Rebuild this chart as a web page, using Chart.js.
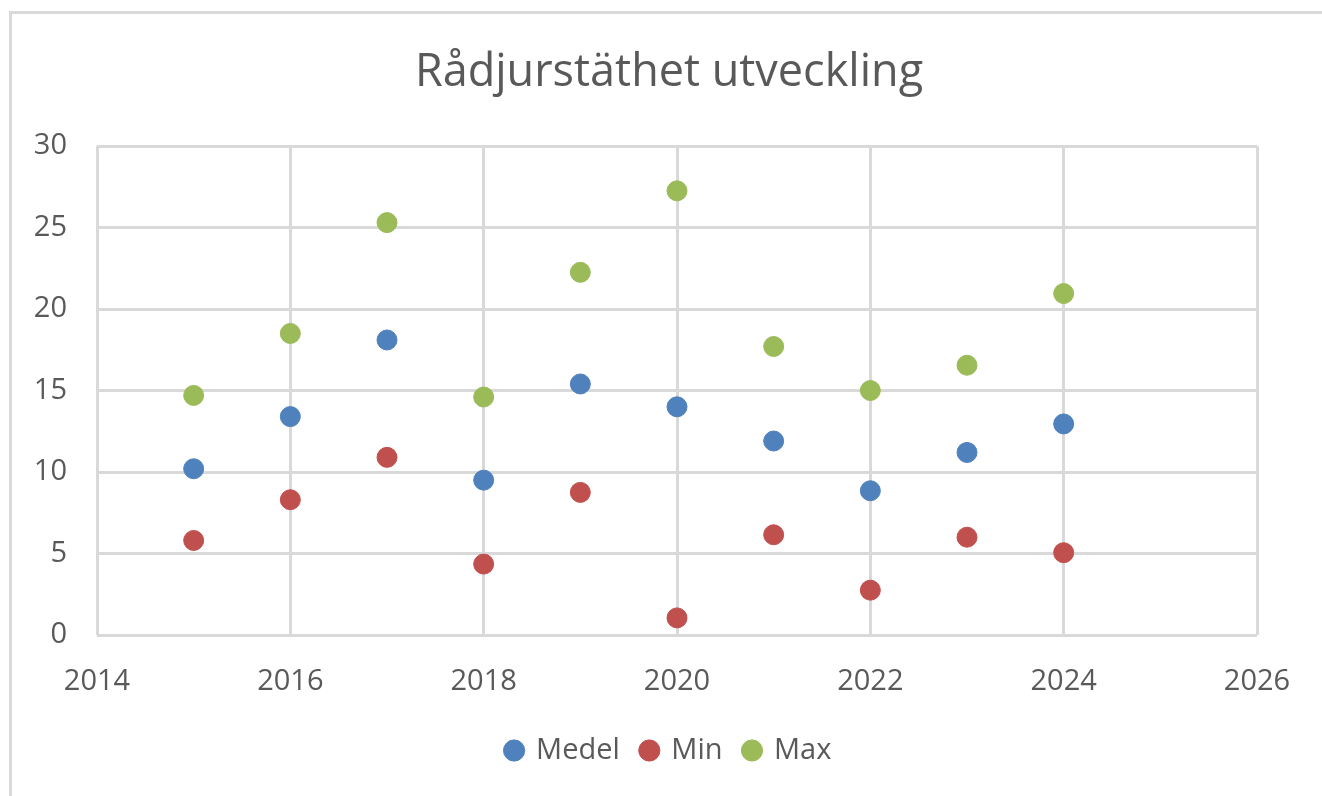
<!DOCTYPE html>
<html lang="sv">
<head>
<meta charset="utf-8">
<title>Rådjurstäthet utveckling</title>
<script src="https://cdn.jsdelivr.net/npm/chart.js@4/dist/chart.umd.min.js"></script>
<style>
    html, body { margin: 0; padding: 0; background: #fff; overflow: hidden; }
    #wrap { position: relative; width: 1322px; height: 796px; }
    #frame {
        position: absolute; left: 9px; top: 11px; width: 1400px; height: 900px;
        border: 3px solid #d9d9d9; box-sizing: border-box;
    }
    #chart { position: absolute; left: 0; top: 0; }
</style>
</head>
<body>
<div id="wrap">
    <div id="frame"></div>
    <canvas id="chart" width="1322" height="796"></canvas>
</div>
<script>
// Data
const years = [2015, 2016, 2017, 2018, 2019, 2020, 2021, 2022, 2023, 2024];
const medelValues = [10.2, 13.4, 18.1, 9.5, 15.4, 14.0, 11.9, 8.85, 11.2, 12.95];
const minValues = [5.8, 8.3, 10.9, 4.35, 8.75, 1.05, 6.15, 2.75, 6.0, 5.05];
const maxValues = [14.7, 18.5, 25.3, 14.6, 22.25, 27.25, 17.7, 15.0, 16.55, 20.95];
const seriesNames = ['Medel', 'Min', 'Max'];
const seriesColors = ['#4f81bd', '#c0504d', '#9bbb59'];

const FONT = '"Open Sans", "Noto Sans", sans-serif';
const TEXT = '#595959';
const GRID = '#d9d9d9';

function toPoints(values) {
    return years.map((y, i) => ({ x: y, y: values[i] }));
}

const datasets = [medelValues, minValues, maxValues].map((vals, i) => ({
    label: seriesNames[i],
    data: toPoints(vals),
    backgroundColor: seriesColors[i],
    borderColor: seriesColors[i],
    borderWidth: 1,
    pointRadius: 10,
    pointHoverRadius: 10
}));

new Chart(document.getElementById('chart'), {
    type: 'scatter',
    data: { datasets },
    options: {
        responsive: false,
        animation: false,
        // left padding centres title and legend on the frame
        layout: { padding: { left: 16, right: 0, top: 0, bottom: 21 } },
        plugins: {
            title: {
                display: true,
                text: 'Rådjurstäthet utveckling',
                color: TEXT,
                font: { family: FONT, size: 45, weight: 'normal', lineHeight: 1.2 },
                padding: { top: 46, bottom: 46 }
            },
            legend: {
                position: 'bottom',
                labels: {
                    usePointStyle: true,
                    pointStyle: 'circle',
                    boxWidth: 15,
                    boxHeight: 15,
                    padding: 22,
                    color: TEXT,
                    font: { family: FONT, size: 29 }
                }
            },
            tooltip: { enabled: false }
        },
        scales: {
            x: {
                type: 'linear',
                min: 2014,
                max: 2026,
                ticks: {
                    stepSize: 2,
                    color: TEXT,
                    padding: 29,
                    font: { family: FONT, size: 29 },
                    callback: v => String(v)
                },
                grid: { color: GRID, lineWidth: 3, drawTicks: false },
                border: { display: false },
                afterFit: scale => { scale.height = 79; }
            },
            y: {
                min: 0,
                max: 30,
                ticks: {
                    stepSize: 5,
                    color: TEXT,
                    padding: 30,
                    font: { family: FONT, size: 29 }
                },
                grid: { color: GRID, lineWidth: 3, drawTicks: false },
                border: { display: false },
                afterFit: scale => { scale.width = 81; }
            },
            // empty right-hand spacer so the plot ends where the reference does
            spacer: {
                type: 'linear',
                position: 'right',
                min: 0,
                max: 30,
                ticks: { display: false },
                grid: { display: false },
                border: { display: false },
                afterFit: scale => { scale.width = 65; }
            }
        }
    }
});
</script>
</body>
</html>
